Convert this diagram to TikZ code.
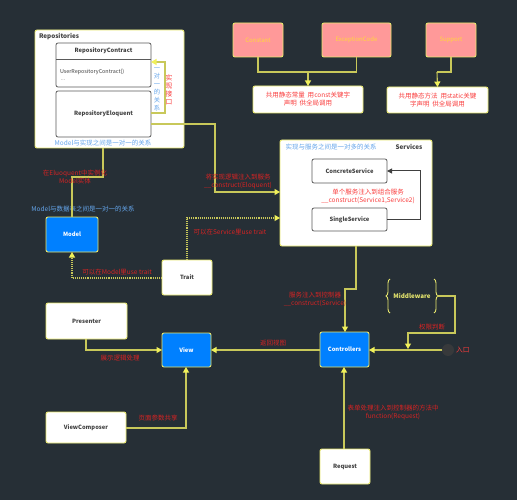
\documentclass[tikz,border=0pt]{standalone}
\usepackage{fontspec}
\setmainfont{Noto Sans CJK SC}
\usetikzlibrary{arrows.meta,decorations.pathreplacing}
\definecolor{bg}{RGB}{38,47,54}
\definecolor{lineY}{RGB}{200,200,90}
\definecolor{tipY}{RGB}{240,240,90}
\definecolor{borderY}{RGB}{232,232,110}
\definecolor{redT}{RGB}{215,35,35}
\definecolor{redW}{RGB}{250,60,60}
\definecolor{blueT}{RGB}{100,165,235}
\definecolor{blueN}{RGB}{0,128,255}
\definecolor{pinkN}{RGB}{255,153,153}
\definecolor{pinkT}{RGB}{255,215,60}
\definecolor{grayT}{RGB}{64,64,64}
\definecolor{grayB}{RGB}{90,90,90}
\definecolor{entryC}{RGB}{55,57,59}
\begin{document}
\begin{tikzpicture}[x=1pt,y=-1pt,
  every node/.style={inner sep=0pt,outer sep=0pt},
  whitebox/.style={draw=borderY,line width=0.9pt,fill=white,rounded corners=2pt,font=\fontsize{5.8}{6}\selectfont\bfseries,text=grayT},
  innerbox/.style={draw=grayB,line width=0.8pt,fill=white,rounded corners=2pt,font=\fontsize{5.8}{6}\selectfont\bfseries,text=grayT},
  bluebox/.style={draw=borderY,line width=0.9pt,fill=blueN,rounded corners=2pt,font=\fontsize{5.8}{6}\selectfont\bfseries,text=white},
  pinkbox/.style={draw=borderY,line width=0.9pt,fill=pinkN,rounded corners=2pt,font=\fontsize{6}{6}\selectfont,text=pinkT},
  conn/.style={draw=lineY,line width=1.1pt,-{Triangle[length=5.5pt,width=6pt,fill=tipY,color=tipY]}},
  plain/.style={draw=lineY,line width=1.1pt},
  dotconn/.style={draw=lineY,line width=1.1pt,densely dotted,-{Triangle[length=5.5pt,width=6pt,fill=tipY,color=tipY]}},
  grayconn/.style={draw=grayT,line width=1pt,-{Triangle[length=5pt,width=5pt]}},
  redlbl/.style={text=redT,font=\fontsize{6.5}{8}\selectfont,align=center},
  redwlbl/.style={text=redW,font=\fontsize{6.5}{8}\selectfont,align=center},
  bluelbl/.style={text=blueT,font=\fontsize{6.5}{8}\selectfont,align=center},
]
\fill[bg] (0,0) rectangle (517,500);
\useasboundingbox (0,0) rectangle (517,500);

% Repositories
\node[whitebox,minimum width=149pt,minimum height=118pt] (repo) at (109.5,89) {};
\node[anchor=west,font=\fontsize{6.3}{7}\selectfont\bfseries,text=grayT] (repolbl) at (39,37) {Repositories};
\node[innerbox,minimum width=95pt,minimum height=44pt] (RC) at (103.5,65) {};
\draw[grayB,line width=0.8pt] (RC.west |- 0,59) -- (RC.east |- 0,59);
\node[font=\fontsize{5.8}{6}\selectfont\bfseries,text=grayT] (rctitle) at (103.5,51) {RepositoryContract};
\node[anchor=west,font=\fontsize{5.4}{6}\selectfont,text=grayT] (rcbody) at (60,72) {UserRepositoryContract()};
\node[anchor=west,font=\fontsize{5}{6}\selectfont,text=grayB] (rcdots) at (61,80) {...};
\node[innerbox,minimum width=95pt,minimum height=46pt] (RE) at (103.5,114) {RepositoryEloquent};
\coordinate (brk1) at (165,113);
\coordinate (brk2) at (165,62);
\draw[conn] (RE.east |- brk1) -- (brk1) -- (brk2) -- (RC.east |- brk2);
\node[bluelbl,font=\fontsize{6.3}{8}\selectfont] (oneone) at (157,89) {一\\对\\一\\的\\关\\系};
\node[redwlbl,font=\fontsize{6.8}{8}\selectfont] (impl) at (169,90) {实\\现\\接\\口};
\node[bluelbl] (repomodel) at (103,143) {Model与实现之间是一对一的关系};

% Constants
\node[pinkbox,minimum width=50pt,minimum height=34pt] (const) at (258,40) {Constant};
\node[pinkbox,minimum width=69pt,minimum height=34pt] (exc) at (356.5,40) {ExceptionCode};
\node[pinkbox,minimum width=50pt,minimum height=34pt] (supp) at (451,40) {Support};
\node[whitebox,minimum width=110pt,minimum height=27pt,font=\fontsize{6.5}{8}\selectfont,text=redW,align=center] (cbox) at (308,99.5) {共用静态常量\ \ 用const关键字\\声明\ \ 供全局调用};
\node[whitebox,minimum width=101pt,minimum height=26pt,font=\fontsize{6.5}{8}\selectfont,text=redW,align=center] (sbox) at (437.5,100) {共用静态方法\ \ 用static关键\\字声明\ \ 供全局调用};
\coordinate (cj) at (308,72);
\draw[plain] (const.south) -- (const.south |- cj) -- (exc.south |- cj) -- (exc.south);
\draw[conn] (cj) -- (cbox.north);
\coordinate (sj) at (437,72);
\draw[plain] (supp.south) -- (supp.south |- sj) -- (sj);
\draw[conn] (sj) -- (sbox.north);

% Services
\node[whitebox,minimum width=152pt,minimum height=106pt] (serv) at (356,193) {};
\node[bluelbl] (servrel) at (331,147) {实现与服务之间是一对多的关系};
\node[font=\fontsize{6.3}{7}\selectfont\bfseries,text=grayT] (servlbl) at (409,147) {Services};
\node[innerbox,minimum width=75pt,minimum height=24pt] (CS) at (349.5,171) {ConcreteService};
\node[innerbox,minimum width=75pt,minimum height=23pt] (SS) at (349.5,219.5) {SingleService};
\coordinate (g1) at (420,219);
\coordinate (g2) at (420,171);
\draw[grayconn] (SS.east |- g1) -- (g1) -- (g2) -- (CS.east |- g2);
\node[redwlbl] (servinj) at (368,196) {单个服务注入到组合服务\\\_\_construct(Service1,Service2)};

% Eloquent -> Services
\coordinate (e1) at (215,124);
\coordinate (e2) at (215,192);
\draw[conn] (RE.east |- e1) -- (e1) -- (e2) -- (serv.west |- e2);
\node[redlbl] (eloinj) at (238,181) {将实现逻辑注入到服务\\\_\_construct(Eloquent)};

% Model
\node[bluebox,minimum width=52pt,minimum height=35pt] (model) at (72,234.5) {Model};
\node[bluelbl] (modelrel) at (83,209) {Model与数据表之间是一对一的关系};
\coordinate (m0) at (103,148);
\coordinate (m1) at (103,177);
\coordinate (m2) at (72,177);
\draw[plain] (m0) -- (m1) -- (m2) -- (model.north);
\node[redlbl] (modelinst) at (75,177.5) {在Eluoquent中实例化\\Model实体};

% Trait
\node[whitebox,minimum width=50pt,minimum height=35pt] (trait) at (187,277.5) {Trait};
\coordinate (t1) at (72,278);
\draw[dotconn] (trait.west |- t1) -- (t1) -- (model.south);
\node[redlbl] (traitm) at (117,272) {可以在Model里use trait};
\coordinate (t2) at (187,218);
\draw[dotconn] (trait.north) -- (t2) -- (serv.west |- t2);
\node[redlbl] (traits) at (230,232) {可以在Service里use trait};

% Controllers, View etc
\node[bluebox,minimum width=49pt,minimum height=35pt] (ctrl) at (344.5,349.5) {Controllers};
\node[bluebox,minimum width=49pt,minimum height=34pt] (view) at (186.5,350) {View};
\node[whitebox,minimum width=81pt,minimum height=36pt] (pres) at (86.5,321) {Presenter};
\node[whitebox,minimum width=80pt,minimum height=31pt] (vc) at (86,427.5) {ViewComposer};
\node[whitebox,minimum width=50pt,minimum height=35pt] (req) at (345,466.5) {Request};

\coordinate (s1) at (356,289);
\coordinate (s2) at (345,289);
\draw[conn] (serv.south -| s1) -- (s1) -- (s2) -- (ctrl.north -| s2);
\node[redlbl] (servctrl) at (315,299) {服务注入到控制器\\\_\_construct(Service)};

\draw[conn] (ctrl.west |- 0,350) -- (view.east |- 0,350);
\node[redlbl] (retview) at (273,343) {返回视图};

\coordinate (p1) at (86,350);
\draw[conn] (pres.south -| p1) -- (p1) -- (view.west |- p1);
\node[redlbl] (presl) at (120,358) {展示逻辑处理};

\coordinate (v1) at (186,428);
\draw[conn] (vc.east |- v1) -- (v1) -- (view.south -| v1);
\node[redlbl] (vcl) at (158,418) {页面参数共享};

\draw[conn] (req.north -| 344,0) -- (ctrl.south -| 344,0);
\node[redlbl] (reql) at (393,412) {表单处理注入到控制器的方法中\\function(Request)};

% Middleware and entry
\node[font=\fontsize{6.2}{6}\selectfont\bfseries,text=borderY] (mw) at (412,296) {Middleware};
\draw[borderY,line width=0.9pt,decorate,decoration={brace,amplitude=4pt}] (390,313) -- (390,279);
\draw[borderY,line width=0.9pt,decorate,decoration={brace,amplitude=4pt}] (434,279) -- (434,313);
\coordinate (mwr) at (437,296);
\coordinate (mw1) at (455,296);
\coordinate (mw2) at (455,333);
\coordinate (mw3) at (408,333);
\coordinate (mw4) at (408,349);
\draw[conn] (mwr) -- (mw1) -- (mw2) -- (mw3) -- (mw4);
\node[redlbl] (perm) at (432,327) {权限判断};
\node[circle,fill=entryC,minimum size=12pt] (entry) at (448,350) {};
\draw[conn] (entry.west) -- (ctrl.east |- 0,350);
\node[text=redW,font=\fontsize{6.8}{7}\selectfont,anchor=west] (entryl) at (456,350) {入口};
\end{tikzpicture}
\end{document}
